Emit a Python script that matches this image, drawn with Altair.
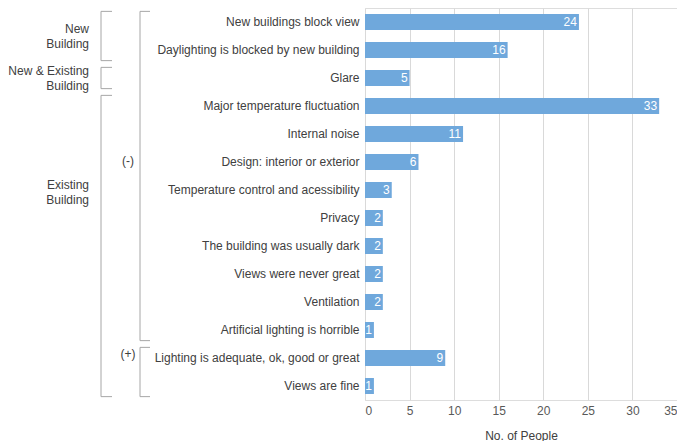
import altair as alt
import pandas as pd

# ---- data ----
categories = [
    "New buildings block view",
    "Daylighting is blocked by new building",
    "Glare",
    "Major temperature fluctuation",
    "Internal noise",
    "Design: interior or exterior",
    "Temperature control and acessibility",
    "Privacy",
    "The building was usually dark",
    "Views were never great",
    "Ventilation",
    "Artificial lighting is horrible",
    "Lighting is adequate, ok, good or great",
    "Views are fine",
]
people = [24, 16, 5, 33, 11, 6, 3, 2, 2, 2, 2, 1, 9, 1]

# outer category groups (row index of first / last member, row where the label sits)
outer_labels = ["New\nBuilding", "New & Existing\nBuilding", "Existing\nBuilding"]
outer_first = [0, 2, 3]
outer_last = [1, 2, 13]
outer_label_row = [0.5, 2.0, 6.1]

# inner category groups
inner_labels = ["(-)", "(+)"]
inner_first = [0, 12]
inner_last = [11, 13]
inner_label_row = [4.95, 11.85]

x_ticks = [0, 5, 10, 15, 20, 25, 30, 35]

# ---- styling ----
FONT = "Liberation Sans"
BAR = "#6fa8dc"
TEXT = "#404040"
BRACKET = "#a6a6a6"
PAD = 0.12
W, H = 312, 392
N = len(categories)

bars_df = pd.DataFrame({"category": categories, "people": people})

def spans(first, last):
    return pd.DataFrame({
        "start": [f - 0.5 + PAD for f in first],
        "end": [l + 0.5 - PAD for l in last],
    })

def ends(first, last):
    s = spans(first, last)
    return pd.DataFrame({"pos": list(s["start"]) + list(s["end"])})

yq = alt.Scale(domain=[-0.5, N - 0.5], reverse=True)

base = alt.Chart(bars_df)
bars = base.mark_bar(color=BAR, size=16).encode(
    y=alt.Y(
        "category:N",
        sort=categories,
        scale=alt.Scale(domain=categories, paddingInner=0, paddingOuter=0),
        axis=alt.Axis(title=None, ticks=False, domain=False, grid=False,
                      labelLimit=400, labelPadding=6, labelFontSize=12,
                      labelColor=TEXT, labelFont=FONT),
    ),
    x=alt.X(
        "people:Q",
        scale=alt.Scale(domain=[0, 35], nice=False),
        axis=alt.Axis(title="No. of People", values=x_ticks, ticks=False,
                      domain=False, grid=True, gridColor="#d9d9d9",
                      labelPadding=5, labelFontSize=12, labelColor="#595959",
                      labelFont=FONT, titleFont=FONT, titleFontSize=12,
                      titleFontWeight="normal", titleColor=TEXT,
                      titlePadding=14),
    ),
)
values = base.mark_text(align="right", baseline="middle", dx=-2, color="white",
                        fontSize=12, font=FONT).encode(
    y=alt.Y("category:N", sort=categories,
            scale=alt.Scale(domain=categories, paddingInner=0, paddingOuter=0)),
    x=alt.X("people:Q"),
    text=alt.Text("people:Q"),
)

OUT_X, OUT_TICK = -264, 11
IN_X, IN_TICK = -225, 10

def bracket_layers(first, last, xpos, tick):
    v = alt.Chart(spans(first, last)).mark_rule(color=BRACKET, strokeWidth=1).encode(
        y=alt.Y("start:Q", scale=yq, axis=None),
        y2="end:Q",
        x=alt.value(xpos),
    )
    t = alt.Chart(ends(first, last)).mark_rule(color=BRACKET, strokeWidth=1).encode(
        y=alt.Y("pos:Q", scale=yq, axis=None),
        x=alt.value(xpos),
        x2=alt.value(xpos + tick),
    )
    return [v, t]

outer_text = alt.Chart(pd.DataFrame({"label": outer_labels, "row": outer_label_row})).mark_text(
    align="right", baseline="middle", lineBreak="\n", lineHeight=15, dy=-7.5,
    fontSize=12, font=FONT, color=TEXT,
).encode(
    y=alt.Y("row:Q", scale=yq, axis=None),
    x=alt.value(-276),
    text="label:N",
)
inner_text = alt.Chart(pd.DataFrame({"label": inner_labels, "row": inner_label_row})).mark_text(
    align="center", baseline="middle", fontSize=12, font=FONT, color=TEXT,
).encode(
    y=alt.Y("row:Q", scale=yq, axis=None),
    x=alt.value(-237),
    text="label:N",
)

annot = alt.layer(
    *bracket_layers(outer_first, outer_last, OUT_X, OUT_TICK),
    *bracket_layers(inner_first, inner_last, IN_X, IN_TICK),
    outer_text, inner_text,
)

chart = alt.layer(alt.layer(bars, values), annot).resolve_scale(y="independent").properties(
    width=W, height=H, padding=0,
).configure_view(stroke=None).configure(font=FONT)

chart.save("out.html", embed_options={"renderer": "svg", "actions": False})
